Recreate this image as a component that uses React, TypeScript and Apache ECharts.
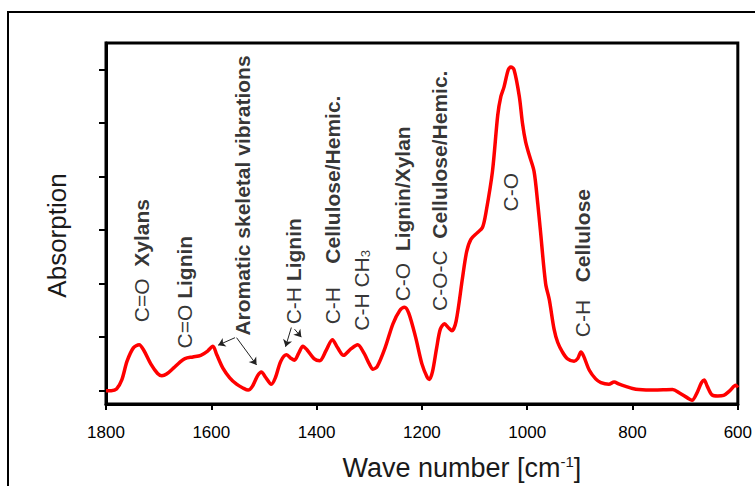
import { useEffect, useRef } from "react";
import * as echarts from "echarts";

// FTIR spectrum (wave number in cm-1, absorption in arbitrary units)
const waveNumbers = [
  1800, 1790, 1780, 1770, 1760, 1748, 1737, 1728, 1715, 1702, 1694, 1685, 1672, 1660, 1650, 1635, 1620, 1607, 1597,
  1590, 1578, 1565, 1552, 1540, 1530, 1522, 1512, 1505, 1497, 1486, 1478, 1468, 1457, 1448, 1442, 1434, 1426, 1418,
  1405, 1394, 1382, 1370, 1360, 1349, 1335, 1322, 1310, 1300, 1293, 1285, 1270, 1255, 1242, 1233, 1225, 1212, 1200,
  1190, 1186, 1180, 1172, 1165, 1157, 1150, 1143, 1135, 1123, 1115, 1107, 1095, 1085, 1078, 1066, 1056, 1050, 1044,
  1036, 1031, 1025, 1015, 1009, 1003, 996, 987, 980, 975, 965, 958, 949, 942, 933, 924, 911, 904, 898, 893, 882, 870,
  860, 845, 835, 825, 813, 800, 788, 760, 724, 710, 695, 687, 678, 669, 664, 658, 649, 638, 627, 615, 604, 600,
];
const absorbance = [
  0.0, 0.0, 0.03, 0.2, 0.55, 0.8, 0.86, 0.75, 0.5, 0.32, 0.28, 0.31, 0.42, 0.53, 0.6, 0.63, 0.66, 0.74, 0.83,
  0.68, 0.42, 0.24, 0.12, 0.05, 0.01, 0.08, 0.28, 0.35, 0.25, 0.12, 0.25, 0.55, 0.67, 0.6, 0.57, 0.7, 0.83, 0.76,
  0.6, 0.56, 0.75, 0.95, 0.8, 0.66, 0.78, 0.86, 0.7, 0.5, 0.4, 0.45, 0.8, 1.25, 1.5, 1.56, 1.45, 1.0, 0.5,
  0.25, 0.21, 0.35, 0.8, 1.15, 1.25, 1.18, 1.12, 1.3, 2.1, 2.6, 2.83, 2.95, 3.05, 3.35, 4.1, 5.15, 5.5, 5.68,
  6.0, 6.05, 6.0, 5.5, 5.0, 4.65, 4.4, 4.1, 3.5, 3.0, 2.0, 1.7, 1.15, 0.9, 0.72, 0.6, 0.55, 0.6, 0.72, 0.65, 0.38, 0.22,
  0.15, 0.12, 0.16, 0.12, 0.08, 0.04, 0.02, 0.01, 0.02, -0.05, -0.14, -0.18, -0.05, 0.15, 0.2, 0.08, -0.08, -0.1, -0.09, 0.0, 0.1, 0.06,
];

const xMin = 600;
const xMax = 1800;
const xStep = 200;
const yMin = -0.25;
const yMax = 6.5;
const yTicks = [0, 1, 2, 3, 4, 5, 6];

// Band assignments (anchor = start of the vertical text)
const labelWaves = [1732, 1650, 1540, 1444, 1369, 1315, 1236, 1167, 1031, 895];
const labelHeights = [1.28, 0.79, 1.03, 1.24, 1.24, 1.12, 1.67, 1.49, 3.35, 1.0];
const labelTexts = [
  "{r|C=O}{b|  Xylans}",
  "{r|C=O}{b| Lignin}",
  "{b|Aromatic skeletal vibrations}",
  "{r|C-H}{b| Lignin}",
  "{r|C-H}{b|    Cellulose/Hemic.}",
  "{r|C-H CH}{sub|3}",
  "{r|C-O}{b|  Lignin/Xylan}",
  "{r|C-O-C}{b|  Cellulose/Hemic.}",
  "{r|C-O}",
  "{r|C-H}{b|   Cellulose}",
];

// Arrows: [fromWave, fromValue, toWave, toValue]
const arrows = [
  [1555, 0.99, 1587, 0.85],
  [1552, 0.99, 1514, 0.48],
  [1448, 1.18, 1459, 0.82],
  [1442, 1.15, 1429, 1.0],
];

const FONT = "'Liberation Sans', Arial, Helvetica, sans-serif";

export default function App() {
  const ref = useRef<HTMLDivElement>(null);
  useEffect(() => {
    if (!ref.current) return;
    const chart = echarts.init(ref.current, null, { renderer: "svg" });
    chart.setOption({
      animation: false,
      backgroundColor: "#ffffff",
      textStyle: { fontFamily: FONT },
      grid: {
        left: 106,
        right: 16,
        top: 43,
        bottom: 75,
        show: true,
        borderColor: "#000",
        borderWidth: 3,
        backgroundColor: "transparent",
      },
      graphic: [
        {
          type: "rect",
          shape: { x: 8, y: 12, width: 800, height: 600 },
          style: { fill: "none", stroke: "#000", lineWidth: 2 },
          silent: true,
          z: -1,
        },
      ],
      xAxis: {
        type: "value",
        min: xMin,
        max: xMax,
        interval: xStep,
        inverse: true,
        splitLine: { show: false },
        axisLine: { show: true, onZero: false, lineStyle: { color: "#000", width: 3 } },
        axisTick: { show: true, inside: false, length: 6, lineStyle: { color: "#000", width: 2 } },
        axisLabel: {
          color: "#000",
          fontSize: 17,
          margin: 20,
          fontFamily: FONT,
          formatter: (v: number) => String(v),
        },
        name: "Wave number [cm{sup|-1}]",
        nameLocation: "middle",
        nameGap: 50,
        nameTextStyle: {
          color: "#1a1a1a",
          fontSize: 27,
          fontFamily: FONT,
          padding: [0, 0, 0, 80],
          rich: {
            sup: { fontSize: 15, verticalAlign: "top", padding: [0, 0, 10, 0], fontFamily: FONT, color: "#1a1a1a" },
          },
        },
      },
      yAxis: {
        type: "value",
        min: yMin,
        max: yMax,
        splitLine: { show: false },
        axisLine: { show: true, onZero: false, lineStyle: { color: "#000", width: 3 } },
        axisTick: { show: true, inside: false, length: 7, customValues: yTicks, lineStyle: { color: "#000", width: 2 } },
        axisLabel: { show: false },
        name: "Absorption",
        nameLocation: "middle",
        nameGap: 36,
        nameRotate: 90,
        nameTextStyle: { color: "#1a1a1a", fontSize: 26, fontFamily: FONT, padding: [0, 24, 0, 0] },
      },
      series: [
        {
          type: "line",
          data: waveNumbers.map((w, i) => [w, absorbance[i]]),
          smooth: 0.3,
          symbol: "none",
          lineStyle: { color: "#ff0000", width: 3.5 },
          z: 3,
          markLine: {
            silent: true,
            symbol: ["none", "arrow"],
            symbolSize: 7,
            label: { show: false },
            lineStyle: { color: "#222", width: 1, type: "solid" },
            data: arrows.map((a) => [{ coord: [a[0], a[1]] }, { coord: [a[2], a[3]] }]),
          },
        },
        {
          type: "scatter",
          symbolSize: 0,
          silent: true,
          data: labelWaves.map((w, i) => [w, labelHeights[i]]),
          z: 4,
          label: {
            show: true,
            position: "inside",
            rotate: 90,
            align: "left",
            verticalAlign: "middle",
            color: "#000",
            fontSize: 21,
            fontFamily: FONT,
            formatter: (p: any) => labelTexts[p.dataIndex],
            rich: {
              r: { fontSize: 21, fontWeight: "normal", color: "#000", fontFamily: FONT },
              b: { fontSize: 21, fontWeight: "bold", color: "#000", fontFamily: FONT },
              sub: { fontSize: 13, fontWeight: "normal", color: "#000", fontFamily: FONT, verticalAlign: "bottom", padding: [8, 0, 0, 0] },
            },
          },
        },
      ],
    });
    return () => chart.dispose();
  }, []);
  return <div ref={ref} style={{ position: "fixed", left: 0, top: 0, width: 755, height: 486 }} />;
}
